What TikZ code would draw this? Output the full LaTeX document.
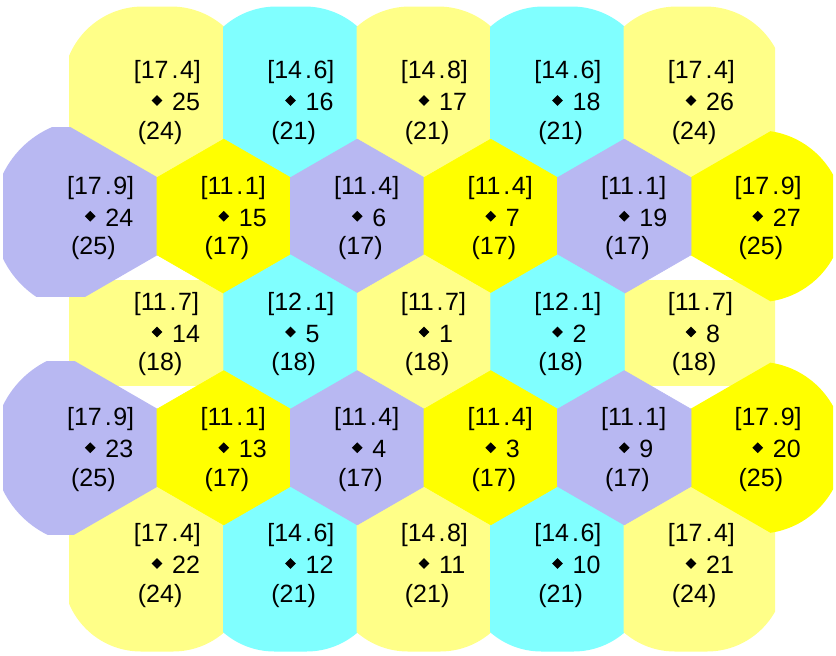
\documentclass[tikz,border=0pt]{standalone}
\usepackage{fontspec}
\setmainfont{Liberation Sans}
\usetikzlibrary{shapes.geometric}
\definecolor{ly}{RGB}{255,255,136}
\definecolor{cy}{RGB}{128,255,255}
\definecolor{lv}{RGB}{184,184,242}
\definecolor{yl}{RGB}{255,255,0}
% half-plane clip: keep side of site (#1,#2) away from neighbour in visual direction #3
\newcommand{\hp}[3]{\clip[shift={(#1,#2)},rotate=#3] (-700,-700) -- (67.3,-700) -- (67.3,700) -- (-700,700) -- cycle;}
\newcommand{\rrect}[2]{\clip[rounded corners=80pt] ({#1-94},{#2-94}) rectangle ({#1+94},{#2+94});}
\newcommand{\rrectb}[2]{\clip[rounded corners=78pt] ({#1-94},{#2-94}) rectangle ({#1+94},{#2+88});}
\newcommand{\paint}[3]{\fill[#3] ({#1-200},{#2-200}) rectangle ({#1+200},{#2+200});}
\newcommand{\hexcell}[3]{\fill[#3,draw=#3,line width=0.6pt,shift={(#1,#2)}] (-66.75,-38.63) -- (0,-77.12) -- (66.75,-38.63) -- (66.75,38.63) -- (0,77.12) -- (-66.75,38.63) -- cycle;}
\newcommand{\celltext}[6]{%
  \node[dia] (d#3) at (#1,#2) {};
  \node[lbl,anchor=base west] (n#3) at ({#1+15},{#2+10}) {#3};
  \node[lbl,anchor=base west] (b#3) at ({#1-23.4},{#2-22}) {[#4\kern3pt.\kern1.5pt#5]};
  \node[lbl,anchor=base west] (p#3) at ({#1-19.3},{#2+38.5}) {(#6)};
}
\begin{document}
\begin{tikzpicture}[x=1pt,y=-1pt,
  lbl/.style={inner sep=0pt,font=\fontsize{25}{30}\selectfont,text=black},
  dia/.style={diamond,fill=black,inner sep=0pt,minimum width=11pt,minimum height=11pt}]
\useasboundingbox (0,0) rectangle (836,656);
\begin{scope}
\clip (3,0) rectangle (833,656);
% ---- top row
\begin{scope}\hp{157}{100.5}{0}\rrect{157}{100.5}\clip (69,0) rectangle (400,300);\paint{157}{100.5}{ly}\end{scope}
\begin{scope}\hp{290.5}{100.5}{0}\hp{290.5}{100.5}{180}\rrect{290.5}{100.5}\paint{290.5}{100.5}{cy}\end{scope}
\begin{scope}\hp{424}{100.5}{0}\hp{424}{100.5}{180}\rrect{424}{100.5}\paint{424}{100.5}{ly}\end{scope}
\begin{scope}\hp{557.5}{100.5}{0}\hp{557.5}{100.5}{180}\rrect{557.5}{100.5}\paint{557.5}{100.5}{cy}\end{scope}
\begin{scope}\hp{691}{100.5}{180}\rrect{691}{100.5}\clip (450,0) rectangle (775,300);\paint{691}{100.5}{ly}\end{scope}
% ---- middle row ends
\begin{scope}\clip (69,280) rectangle (260,385);\paint{157}{332}{ly}\end{scope}
\begin{scope}\clip (588,280) rectangle (775,385);\paint{691}{332}{ly}\end{scope}
% ---- bottom row
\begin{scope}\hp{157}{563.5}{0}\rrectb{157}{563.5}\clip (69,400) rectangle (400,700);\paint{157}{563.5}{ly}\end{scope}
\begin{scope}\hp{290.5}{563.5}{0}\hp{290.5}{563.5}{180}\rrectb{290.5}{563.5}\paint{290.5}{563.5}{cy}\end{scope}
\begin{scope}\hp{424}{563.5}{0}\hp{424}{563.5}{180}\rrectb{424}{563.5}\paint{424}{563.5}{ly}\end{scope}
\begin{scope}\hp{557.5}{563.5}{0}\hp{557.5}{563.5}{180}\rrectb{557.5}{563.5}\paint{557.5}{563.5}{cy}\end{scope}
\begin{scope}\hp{691}{563.5}{180}\rrectb{691}{563.5}\clip (450,400) rectangle (775,700);\paint{691}{563.5}{ly}\end{scope}
% ---- odd-row end cells
\begin{scope}\hp{90.25}{216.25}{60}\hp{90.25}{216.25}{300}\clip (90.25,216.25) circle (97);\clip (0,127) rectangle (300,296);\paint{90.25}{216.25}{lv}\end{scope}
\begin{scope}\hp{90.25}{447.75}{60}\hp{90.25}{447.75}{300}\clip (90.25,447.75) circle (97);\clip (0,361) rectangle (300,534);\paint{90.25}{447.75}{lv}\end{scope}
\begin{scope}\hp{757.75}{216.25}{120}\hp{757.75}{216.25}{240}\clip (757.75,216.25) circle (86);\clip (500,127) rectangle (900,302);\paint{757.75}{216.25}{yl}\end{scope}
\begin{scope}\hp{757.75}{447.75}{120}\hp{757.75}{447.75}{240}\clip (757.75,447.75) circle (86);\clip (500,362) rectangle (900,534);\paint{757.75}{447.75}{yl}\end{scope}
% ---- inner hexagons
\hexcell{223.75}{216.25}{yl}
\hexcell{357.25}{216.25}{lv}
\hexcell{490.75}{216.25}{yl}
\hexcell{624.25}{216.25}{lv}
\hexcell{290.5}{332}{cy}
\hexcell{424}{332}{ly}
\hexcell{557.5}{332}{cy}
\hexcell{223.75}{447.75}{yl}
\hexcell{357.25}{447.75}{lv}
\hexcell{490.75}{447.75}{yl}
\hexcell{624.25}{447.75}{lv}
\end{scope}
% ---- labels
\celltext{157}{100.5}{25}{17}{4}{24}
\celltext{290.5}{100.5}{16}{14}{6}{21}
\celltext{424}{100.5}{17}{14}{8}{21}
\celltext{557.5}{100.5}{18}{14}{6}{21}
\celltext{691}{100.5}{26}{17}{4}{24}
\celltext{90.25}{216.25}{24}{17}{9}{25}
\celltext{223.75}{216.25}{15}{11}{1}{17}
\celltext{357.25}{216.25}{6}{11}{4}{17}
\celltext{490.75}{216.25}{7}{11}{4}{17}
\celltext{624.25}{216.25}{19}{11}{1}{17}
\celltext{757.75}{216.25}{27}{17}{9}{25}
\celltext{157}{332}{14}{11}{7}{18}
\celltext{290.5}{332}{5}{12}{1}{18}
\celltext{424}{332}{1}{11}{7}{18}
\celltext{557.5}{332}{2}{12}{1}{18}
\celltext{691}{332}{8}{11}{7}{18}
\celltext{90.25}{447.75}{23}{17}{9}{25}
\celltext{223.75}{447.75}{13}{11}{1}{17}
\celltext{357.25}{447.75}{4}{11}{4}{17}
\celltext{490.75}{447.75}{3}{11}{4}{17}
\celltext{624.25}{447.75}{9}{11}{1}{17}
\celltext{757.75}{447.75}{20}{17}{9}{25}
\celltext{157}{563.5}{22}{17}{4}{24}
\celltext{290.5}{563.5}{12}{14}{6}{21}
\celltext{424}{563.5}{11}{14}{8}{21}
\celltext{557.5}{563.5}{10}{14}{6}{21}
\celltext{691}{563.5}{21}{17}{4}{24}
\end{tikzpicture}
\end{document}
